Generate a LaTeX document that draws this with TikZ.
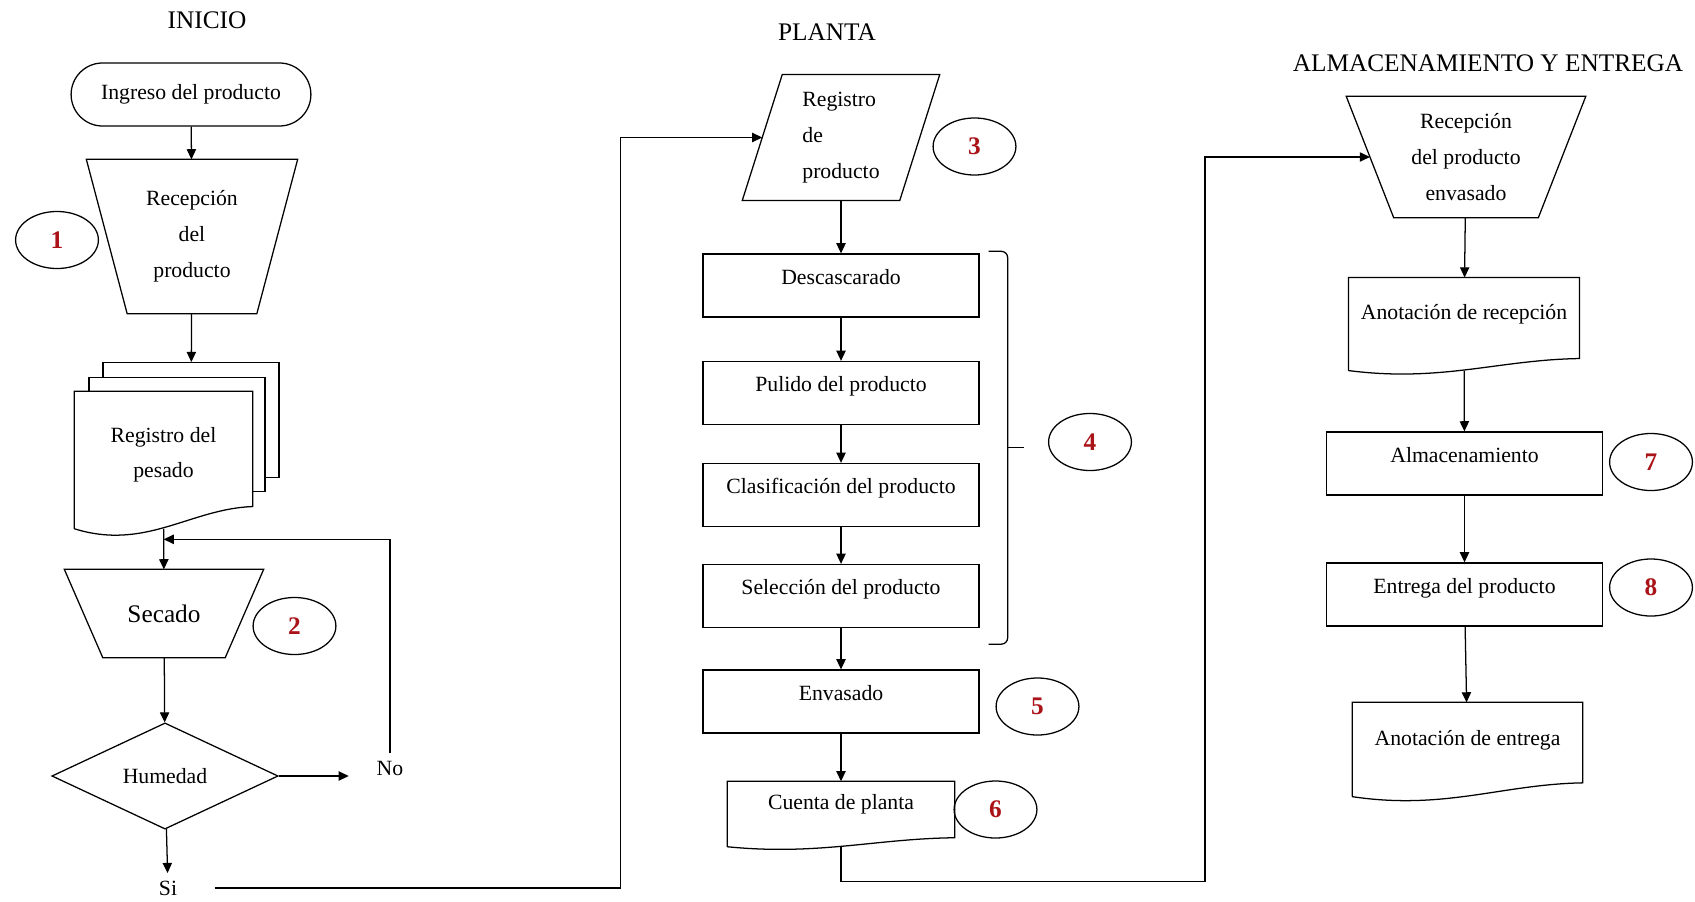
\documentclass[tikz,border=0pt]{standalone}
\usepackage{fontspec}
\setmainfont{Liberation Serif}
\usepackage{tikz}
\usetikzlibrary{arrows.meta,shapes.geometric,shapes.misc,calc}

\definecolor{numred}{RGB}{170,20,25}

% outline of a document symbol (wavy bottom edge), #2 = rise of the wave
\newcommand\docline[2]{%
	\draw (#1.south west) -- (#1.north west) -- (#1.north east) -- ([yshift=#2]#1.south east)
		.. controls ($(#1.south west)!0.65!(#1.south east)+(0pt,{0.9*#2})$) and ($(#1.south west)!0.4!(#1.south east)-(0pt,#2)$) .. (#1.south west);}
% manual operation: top edge = node width, bottom corners pulled in by #2
\newcommand\trapline[2]{%
	\draw (#1.north west) -- (#1.north east) -- ([xshift=-#2]#1.south east) -- ([xshift=#2]#1.south west) -- cycle;
	\coordinate (#1-w) at ($(#1.north west)!0.5!([xshift=#2]#1.south west)$);}
% data symbol: parallelogram leaning right by #2
\newcommand\slantline[2]{%
	\draw ([xshift=#2]#1.north west) -- (#1.north east) -- ([xshift=-#2]#1.south east) -- (#1.south west) -- cycle;
	\coordinate (#1-w) at ($([xshift=#2]#1.north west)!0.5!(#1.south west)$);}

\begin{document}
\begin{tikzpicture}[x=0.01667cm, y=-0.01667cm, line width=0.6pt, >={Triangle[length=4.8pt,width=4.4pt]},
	every node/.style={font=\fontsize{10.3}{17}\selectfont},
	title/.style={font=\fontsize{12}{14}\selectfont},
	proc/.style={draw, rectangle, minimum width=4.6cm, minimum height=1.05cm, inner sep=0pt, text depth=0.3cm},
	docbox/.style={rectangle, inner sep=0pt, align=center, text depth=0.4cm},
	manual/.style={rectangle, inner sep=0pt, align=center},
	sheet/.style={draw, fill=white, rectangle, minimum width=2.93cm, minimum height=1.91cm, inner sep=0pt},
	num/.style={draw, ellipse, minimum width=1.38cm, minimum height=0.95cm, inner sep=0pt, text=numred, font=\fontsize{12}{14}\selectfont\bfseries}]
	\path[use as bounding box, fill=white] (0,0) rectangle (1695,901);

	% headings
	\node[title] (tinicio) at (207,20) {INICIO};
	\node[title] (tplanta) at (827,32) {PLANTA};
	\node[title] (talmac) at (1488,63) {ALMACENAMIENTO Y ENTREGA};

	% INICIO
	\node[draw, rounded rectangle, minimum width=4.23cm, minimum height=1.05cm] (ingreso) at (191,94.5) {Ingreso del producto};
	\node[manual, minimum width=3.5cm, minimum height=2.55cm] (recep) at (192,236.5) {Recepción\\del\\producto};
	\trapline{recep}{0.68cm}
	\node[num] (n1) at (57,240) {1};
	\node[sheet] (hoja2) at (191,420) {};
	\node[sheet] (hoja1) at (177,434.5) {};
	\node[docbox, fill=white, minimum width=2.95cm, minimum height=2.27cm, text depth=0.25cm] (pesado) at (163.5,460) {Registro del\\pesado};
	\docline{pesado}{0.37cm}
	\node[manual, minimum width=3.3cm, minimum height=1.45cm, font=\fontsize{12}{14}\selectfont] (secado) at (164,613.5) {Secado};
	\trapline{secado}{0.64cm}
	\node[num] (n2) at (294.5,626) {2};
	\node[draw, diamond, minimum width=3.77cm, minimum height=1.77cm, inner sep=0pt] (humedad) at (165,776) {Humedad};
	\node (no) at (390,768) {No};
	\node (si) at (168,888) {Si};

	\draw[->] (ingreso) -- (recep);
	\draw[->] (recep) -- (hoja2);
	\draw[->] (pesado) -- (secado);
	\draw[->] (secado) -- (humedad);
	\draw[->] (humedad.east) -- ++(70,0);
	\draw[->] (no.north) |- ($(pesado.south)!0.26!(secado.north)$);
	\draw[->] (humedad) -- (si);

	% PLANTA
	\node[manual, minimum width=3.27cm, minimum height=2.08cm, align=left] (regprod) at (841,137.5) {Registro\\de\\producto};
	\slantline{regprod}{0.667cm}
	\node[num] (n3) at (974.5,146.5) {3};
	\node[proc] (desc) at (841,285.5) {Descascarado};
	\node[proc] (pul) at (841,393) {Pulido del producto};
	\node[proc] (clas) at (841,495) {Clasificación del producto};
	\node[proc] (sel) at (841,596) {Selección del producto};
	\node[proc] (env) at (841,701.5) {Envasado};
	\node[docbox, minimum width=3.77cm, minimum height=1.07cm] (cuenta) at (841,814) {Cuenta de planta};
	\docline{cuenta}{0.15cm}
	\node[num] (n4) at (1090,442) {4};
	\node[num] (n5) at (1037.5,706.5) {5};
	\node[num] (n6) at (995.5,809.5) {6};

	\draw[->] ([xshift=0.5cm]si.east) -- ++(406,0) |- (regprod-w);
	\draw[->] (regprod) -- (desc);
	\draw[->] (desc) -- (pul);
	\draw[->] (pul) -- (clas);
	\draw[->] (clas) -- (sel);
	\draw[->] (sel) -- (env);
	\draw[->] (env) -- (cuenta);
	\coordinate (bt) at ($(desc.north east)+(9,-2)$);
	\coordinate (bb) at ($(sel.south east)+(9,16)$);
	\draw[rounded corners=3pt] (bt) -- ++(19,0) |- (bb);
	\draw ($(bt)!0.5!(bb)+(19,0)$) -- ++(16,0);

	% ALMACENAMIENTO Y ENTREGA
	\node[manual, minimum width=3.97cm, minimum height=2cm] (recenv) at (1466,157) {Recepción\\del producto\\envasado};
	\trapline{recenv}{0.79cm}
	\node[docbox, minimum width=3.83cm, minimum height=1.53cm] (anorec) at (1464,324) {Anotación de recepción};
	\docline{anorec}{0.2cm}
	\node[proc] (almac) at (1464.5,463.5) {Almacenamiento};
	\node[proc] (entrega) at (1464.5,594.5) {Entrega del producto};
	\node[docbox, minimum width=3.82cm, minimum height=1.55cm] (anoent) at (1467.5,749.5) {Anotación de entrega};
	\docline{anoent}{0.23cm}
	\node[num] (n7) at (1651,462) {7};
	\node[num] (n8) at (1651,587.5) {8};

	\draw[->] (cuenta.south) -- ++(0,35) -- ++(364,0) |- (recenv-w);
	\draw[->] (recenv) -- (anorec);
	\draw[->] (anorec) -- (almac);
	\draw[->] (almac) -- (entrega);
	\draw[->] (entrega) -- (anoent);
\end{tikzpicture}
\end{document}
